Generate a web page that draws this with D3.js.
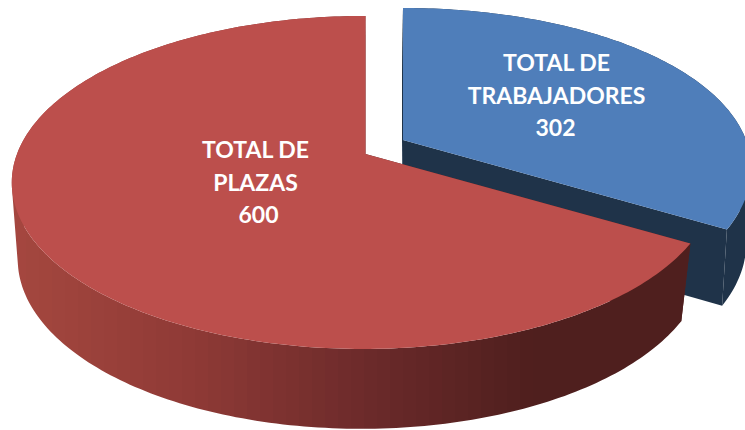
<!DOCTYPE html>
<html lang="en">
<head>
<meta charset="utf-8">
<title>Total de trabajadores y plazas</title>
<script src="https://d3js.org/d3.v7.min.js"></script>
<style>
html, body { margin: 0; padding: 0; background: #fff; overflow: hidden; }
</style>
</head>
<body>
<script>
// data
const categories = ["TOTAL DE TRABAJADORES", "TOTAL DE PLAZAS"];
const values = [302, 600];
const labelLines = [["TOTAL DE", "TRABAJADORES"], ["TOTAL DE", "PLAZAS"]];

const width = 745, height = 430;

// each slice has its own perspective because it is pulled out of the pie
// top: the upper face, bottom: the lower rim
// kx, ky: perspective along the depth, m: small sideways tilt
const views = [
  {
    top: { cx: 403, cy: 140, a: 343, b: 158.4, kx: 0.173, ky: 0.2, m: 0 },
    bottom: { cx: 402, cy: 214.5, a: 339, b: 161.5, kx: 0.173, ky: 0.2, m: 0 },
    face: "#4f7eba",
    side: () => "#1f3349",
    label: { x: 556.5, y: 71, valueShift: -1 }
  },
  {
    top: { cx: 365.5, cy: 154, a: 346.4, b: 161.6, kx: 0.171, ky: 0.171, m: 0.006 },
    bottom: { cx: 363.6, cy: 230, a: 338.7, b: 164.8, kx: 0.171, ky: 0.171, m: 0.006 },
    face: "#bc4f4c",
    side: d3.scaleLinear()
      .domain([12, 190, 370, 530, 690])
      .range(["#a5473f", "#8f3a36", "#6b2a2a", "#4f1f1e", "#4f1f1e"])
      .clamp(true),
    label: { x: 255.5, y: 158, valueShift: 3 }
  }
];

// circle angle (clockwise from the back) to screen position
function project(p, angle, r = 1) {
  const u = r * Math.sin(angle), v = -r * Math.cos(angle);
  return [
    p.cx + p.a * u / (1 - p.kx * v + p.m * u),
    p.cy + p.b * v / (1 - p.ky * v + p.m * u)
  ];
}

const pie = d3.pie().sort(null).startAngle(0).endAngle(2 * Math.PI);
const slices = pie(values);
const line = d3.line();

const svg = d3.select("body").append("svg")
  .attr("width", width)
  .attr("height", height)
  .style("display", "block");

// the wall shading comes in narrow vertical bands, so hard stops in a gradient
const bandWidth = 13;
const bands = d3.range(0, width, bandWidth);
views.forEach((view, i) => {
  const grad = svg.append("defs").append("linearGradient")
    .attr("id", "wall" + i)
    .attr("gradientUnits", "userSpaceOnUse")
    .attr("x1", 0).attr("y1", 0)
    .attr("x2", width).attr("y2", 0);
  bands.forEach(x => {
    const col = view.side(x + bandWidth / 2);
    grad.append("stop").attr("offset", x / width).attr("stop-color", col);
    grad.append("stop").attr("offset", (x + bandWidth) / width).attr("stop-color", col);
  });
});

const g = svg.selectAll("g.slice")
  .data(slices)
  .enter()
  .append("g")
  .attr("class", "slice");

g.append("title").text((d, i) => categories[i] + ": " + values[i]);

g.each(function (d, i) {
  const view = views[i];
  const group = d3.select(this);
  const steps = Math.ceil((d.endAngle - d.startAngle) / (Math.PI / 180));
  const angles = d3.range(steps + 1).map(s => d.startAngle + (d.endAngle - d.startAngle) * s / steps);

  // the two cut faces
  [d.startAngle, d.endAngle].forEach(a => {
    group.append("path")
      .attr("d", line([
        project(view.top, a, 0), project(view.top, a),
        project(view.bottom, a), project(view.bottom, a, 0)
      ]) + "Z")
      .attr("fill", view.side(500));
  });

  // outer wall: one quad per step, all in one path and all wound the same way
  // so that they fill without seams and without holes at the silhouette
  const wall = d3.pairs(angles).map(([a0, a1]) => {
    const quad = [
      project(view.top, a0), project(view.top, a1),
      project(view.bottom, a1), project(view.bottom, a0)
    ];
    if (d3.polygonArea(quad) < 0) quad.reverse();
    return line(quad) + "Z";
  }).join("");
  group.append("path")
    .attr("d", wall)
    .attr("fill", "url(#wall" + i + ")");

  // upper face
  const outline = [project(view.top, 0, 0)].concat(angles.map(a => project(view.top, a)));
  group.append("path")
    .attr("d", line(outline) + "Z")
    .attr("fill", view.face);
});

// labels on top of everything
const labels = svg.selectAll("text.label")
  .data(slices)
  .enter()
  .append("text")
  .attr("class", "label")
  .attr("text-anchor", "middle")
  .attr("font-family", "Lato, 'Open Sans', sans-serif")
  .attr("font-weight", 700)
  .attr("font-size", "23px")
  .attr("fill", "#fff");

labels.selectAll("tspan")
  .data((d, i) => labelLines[i].concat(String(values[i])).map((t, n) => ({ t, n, i })))
  .enter()
  .append("tspan")
  .attr("x", d => views[d.i].label.x + (d.n === 2 ? views[d.i].label.valueShift : 0))
  .attr("y", d => views[d.i].label.y + d.n * 32.7)
  .text(d => d.t);
</script>
</body>
</html>
